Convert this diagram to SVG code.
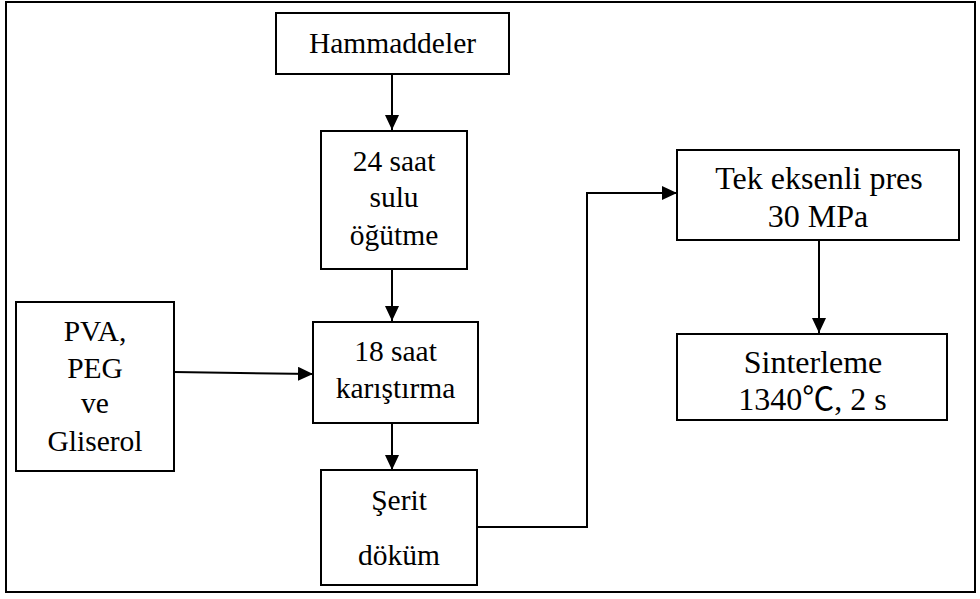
<svg xmlns="http://www.w3.org/2000/svg" width="980" height="599" viewBox="0 0 980 599">
<style>
.box{fill:#fff;stroke:#000;stroke-width:2}
.c{fill:none;stroke:#000;stroke-width:2}
.t{font-family:"Liberation Serif","Noto Sans CJK SC",serif;font-size:29.5px;fill:#000;text-anchor:middle}
.r{font-size:32px}
</style>
<defs>
<marker id="ah" markerUnits="userSpaceOnUse" markerWidth="16" markerHeight="16" viewBox="0 0 16 16" refX="15" refY="7" orient="auto">
<path d="M0,0 L15,7 L0,14 Z" fill="#000"/>
</marker>
</defs>
<rect x="6" y="2" width="969" height="590" fill="#fff" stroke="#000" stroke-width="2"/>
<g id="connectors">
<line class="c" x1="392" y1="74" x2="392" y2="130" marker-end="url(#ah)"/>
<line class="c" x1="392" y1="269" x2="392" y2="321" marker-end="url(#ah)"/>
<line class="c" x1="174" y1="372" x2="313" y2="374" marker-end="url(#ah)"/>
<line class="c" x1="392" y1="423" x2="392" y2="470" marker-end="url(#ah)"/>
<polyline class="c" points="477,527 587,527 587,193 677,193" marker-end="url(#ah)"/>
<line class="c" x1="819" y1="240" x2="819" y2="333" marker-end="url(#ah)"/>
</g>
<g id="hammaddeler">
<rect class="box" x="276" y="13" width="233" height="61"/>
<text class="t" x="392.5" y="53">Hammaddeler</text>
</g>
<g id="ogutme">
<rect class="box" x="321" y="131" width="146" height="138"/>
<text class="t" x="394" y="171">24 saat</text>
<text class="t" x="394" y="207">sulu</text>
<text class="t" x="394" y="245">öğütme</text>
</g>
<g id="katkilar">
<rect class="box" x="16" y="302" width="158" height="169"/>
<text class="t" x="95" y="341">PVA,</text>
<text class="t" x="95" y="378">PEG</text>
<text class="t" x="95" y="413">ve</text>
<text class="t" x="95" y="451">Gliserol</text>
</g>
<g id="karistirma">
<rect class="box" x="313" y="322" width="165" height="101"/>
<text class="t" x="395.5" y="361">18 saat</text>
<text class="t" x="395.5" y="398">karıştırma</text>
</g>
<g id="serit">
<rect class="box" x="321" y="470" width="156" height="115"/>
<text class="t" x="399" y="510">Şerit</text>
<text class="t" x="399" y="565">döküm</text>
</g>
<g id="pres">
<rect class="box" x="677" y="150" width="282" height="90"/>
<text class="t r" x="819" y="189">Tek eksenli pres</text>
<text class="t r" x="818" y="227">30 MPa</text>
</g>
<g id="sinterleme">
<rect class="box" x="677" y="334" width="270" height="86"/>
<text class="t r" x="813" y="373">Sinterleme</text>
<text class="t r" x="812.5" y="410">1340℃, 2 s</text>
</g>
</svg>
